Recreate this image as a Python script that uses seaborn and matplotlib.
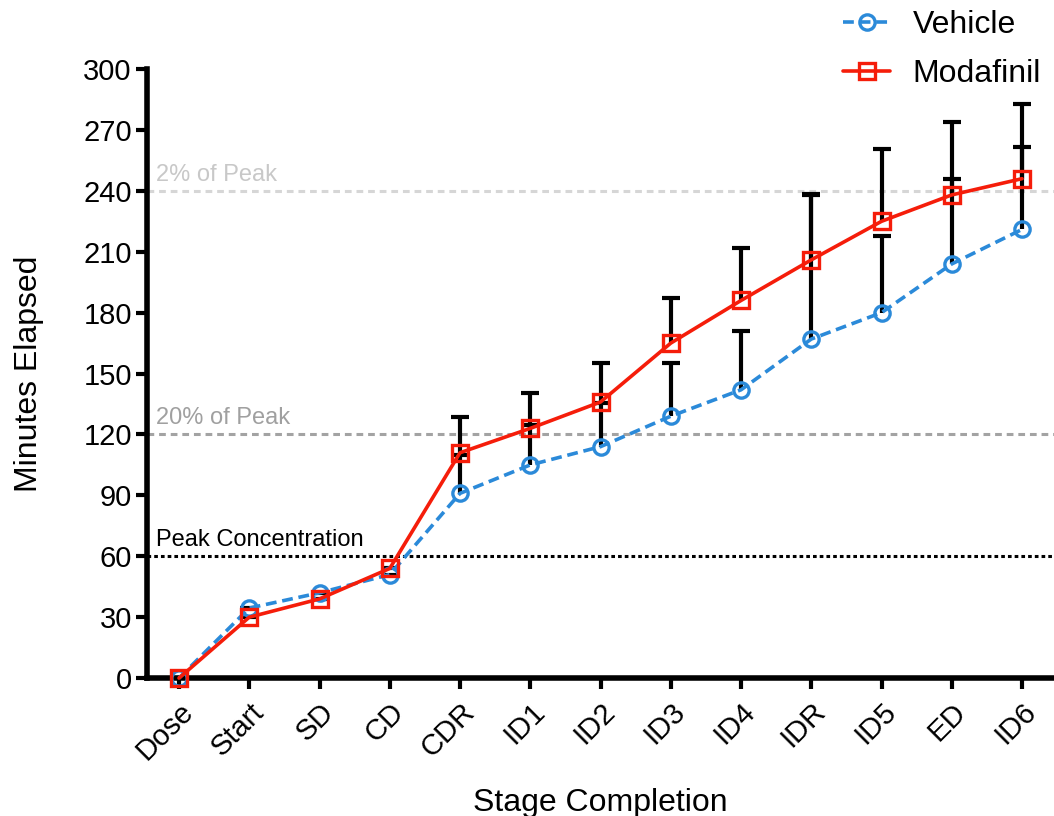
import matplotlib
matplotlib.use("Agg")
import matplotlib.pyplot as plt
from matplotlib.lines import Line2D
import seaborn as sns
import pandas as pd
import numpy as np

stages = ["Dose", "Start", "SD", "CD", "CDR", "ID1", "ID2", "ID3", "ID4", "IDR", "ID5", "ED", "ID6"]
vehicle = [0, 34.5, 42, 51, 91, 105, 114, 129, 142, 167, 180, 204, 221]
vehicle_upper = [0, 34.5, 42, 51, 110, 124.5, 135.5, 155, 171, 238, 218, 246, 261.5]
modafinil = [0, 30, 39, 54, 111, 123, 136, 165, 186, 206, 225, 238, 246]
modafinil_upper = [0, 30, 39, 54, 128.5, 140.5, 155, 187, 212, 238.5, 260.5, 274, 283]

ref_levels = [240, 120, 60]
ref_labels = ["2% of Peak", "20% of Peak", "Peak Concentration"]
ref_colors = ["#d6d6d6", "#a3a3a3", "#000000"]
ref_text_colors = ["#c8c8c8", "#a0a0a0", "#000000"]

sns.set_theme(style="ticks")
plt.rcParams["font.family"] = ["Liberation Sans", "DejaVu Sans"]
plt.rcParams.update({"text.color": "black", "axes.labelcolor": "black",
                     "xtick.color": "black", "ytick.color": "black"})

blue = "#2b8ad9"
red = "#f51d0a"
colors = {"Vehicle": blue, "Modafinil": red}

fig = plt.figure(figsize=(10.54, 8.16), dpi=100)
ax = fig.add_axes([0.1395, 0.169, 0.8605, 0.7464])

x = np.arange(len(stages))
df = pd.DataFrame({
    "stage": np.concatenate([x, x]),
    "minutes": vehicle + modafinil,
    "group": ["Vehicle"] * len(stages) + ["Modafinil"] * len(stages),
})

# reference concentration lines with labels
for lvl, lab, c, tc, ls in zip(ref_levels, ref_labels, ref_colors, ref_text_colors,
                               [(0, (2.2, 1.6)), (0, (2.2, 1.6)), (0, (1.2, 1.0))]):
    ax.axhline(lvl, color=c, lw=2.2, linestyle=ls, zorder=1)
    ax.text(-0.33, lvl + 2.5, lab, color=tc, fontsize=17, ha="left", va="bottom")

# upper-only error bars (drop the lower caps)
for mean, upper in [(vehicle, vehicle_upper), (modafinil, modafinil_upper)]:
    err = np.array(upper) - np.array(mean)
    _, caps, _ = ax.errorbar(x, mean, yerr=[np.zeros_like(err), err], fmt="none",
                             ecolor="black", elinewidth=3, capsize=6.5, capthick=3,
                             zorder=2)
    caps[0].remove()

n_before = len(ax.lines)
sns.lineplot(data=df, x="stage", y="minutes", hue="group", style="group",
             hue_order=["Vehicle", "Modafinil"], style_order=["Vehicle", "Modafinil"],
             palette=colors,
             markers={"Vehicle": "o", "Modafinil": "s"},
             dashes={"Vehicle": (3, 1.6), "Modafinil": ""},
             linewidth=2.6, markersize=11, ax=ax, zorder=3, legend=False)
for ln, name in zip(ax.lines[n_before:], ["Vehicle", "Modafinil"]):
    ln.set_clip_on(False)
    ln.set_markerfacecolor("none")
    ln.set_markeredgecolor(colors[name])
    ln.set_markeredgewidth(2.4)

ax.set_xlim(-0.455, 12.455)
ax.set_ylim(0, 300)
ax.set_yticks(np.arange(0, 301, 30))
ax.set_xticks(x)
ax.set_xticklabels(stages, rotation=45, ha="right", rotation_mode="anchor")
ax.tick_params(axis="both", labelsize=21, width=3, length=8, color="black",
               labelcolor="black", pad=3)
ax.tick_params(axis="x", pad=6)
for s in ["top", "right"]:
    ax.spines[s].set_visible(False)
for s in ["left", "bottom"]:
    ax.spines[s].set_linewidth(4)
    ax.spines[s].set_color("black")

ax.set_ylabel("Minutes Elapsed", fontsize=23, labelpad=28)
ax.set_xlabel("Stage Completion", fontsize=23, labelpad=16)

handles = [
    Line2D([], [], color=blue, lw=2.6, dashes=(3, 1.6), marker="o", markersize=11,
           markeredgewidth=2.4, markerfacecolor="none", markeredgecolor=blue),
    Line2D([], [], color=red, lw=2.6, marker="s", markersize=11,
           markeredgewidth=2.4, markerfacecolor="none", markeredgecolor=red),
]
fig.legend(handles, ["Vehicle", "Modafinil"], loc="upper right",
           bbox_to_anchor=(1.0, 1.003), frameon=False, fontsize=23,
           handlelength=1.5, handletextpad=0.7, labelspacing=0.58,
           borderaxespad=0.0, borderpad=0.4)

fig.savefig("out.png", dpi=100)
